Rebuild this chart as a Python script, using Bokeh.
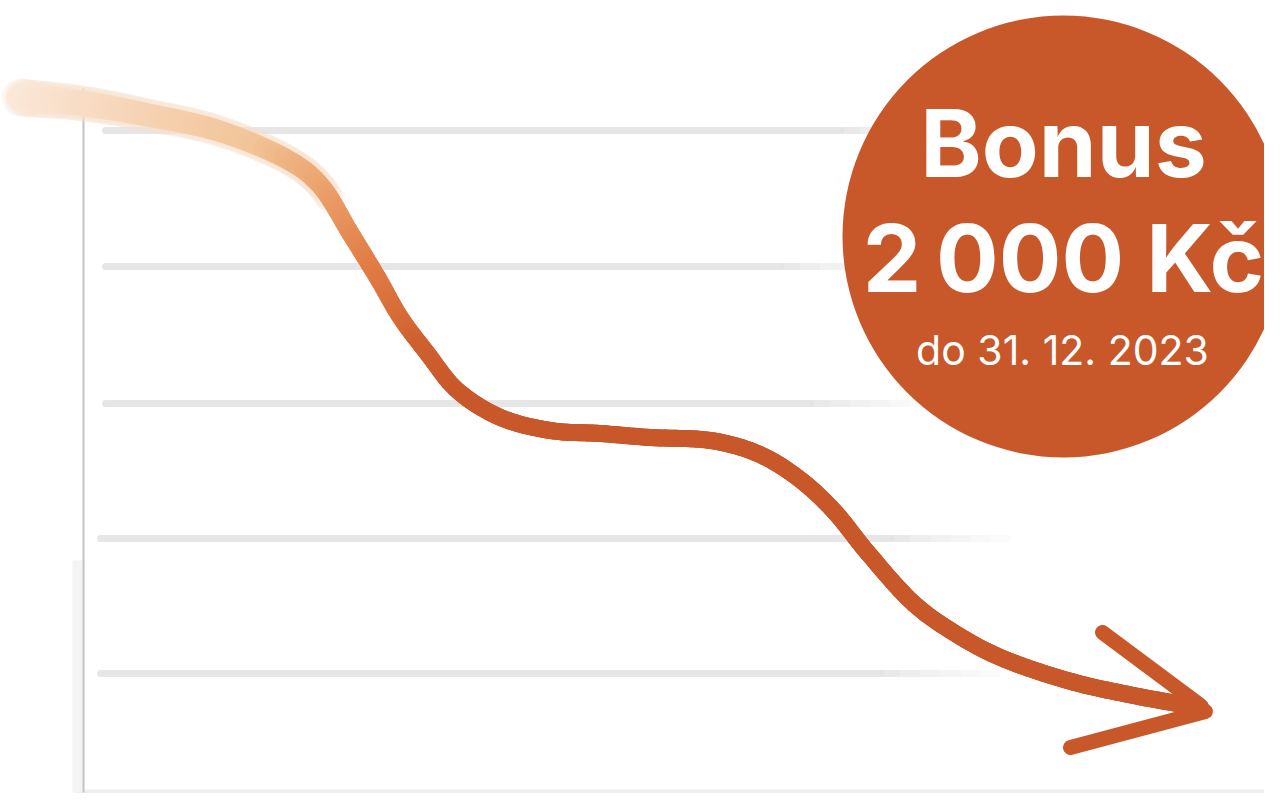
from bokeh.plotting import figure
from bokeh.models import Range1d
from bokeh.embed import file_html
from bokeh.resources import INLINE
from bokeh.core.properties import value

# ---- data (in picture pixel coordinates) ----
curve_x = [20, 83, 150, 217, 283, 320, 350, 377, 400, 427, 457, 500, 550, 600,
           650, 710, 757, 797, 833, 867, 910, 950, 1000, 1067, 1133, 1200]
curve_y = [97, 103, 115, 130, 157, 185, 233, 277, 317, 353, 390, 417, 430, 433,
           437, 440, 453, 477, 510, 552, 600, 630, 657, 680, 695, 707]
arrow_x0 = [1102, 1070]
arrow_y0 = [632, 747]
arrow_x1 = [1200, 1205]
arrow_y1 = [705, 711]
grid_y = [130, 266, 403, 538, 673]
grid_x_start = [105, 105, 105, 100, 100]
grid_x_end = [960, 900, 930, 1010, 1000]
axis_x = 83
axis_top = 88
axis_bottom = 792
badge_cx, badge_cy, badge_r = 1063, 236, 221
badge_lines = ["Bonus", "2\u202f000 Kč", "do 31. 12. 2023"]
badge_baselines = [178, 293, 365]

ORANGE = "#C8582A"

p = figure(width=1264, height=793, output_backend="svg", toolbar_location=None,
           x_range=Range1d(0, 1264), y_range=Range1d(793, 0),
           min_border=0, border_fill_color="white", background_fill_color="white")
p.axis.visible = False
p.grid.visible = False
p.outline_line_color = None

# faint bottom baseline and soft vertical axis shadow
p.segment(x0=[75], y0=[axis_bottom - 1], x1=[1264], y1=[axis_bottom - 1],
          line_color="#eeeeee", line_width=4)
p.segment(x0=[axis_x - 5], y0=[560], x1=[axis_x - 5], y1=[axis_bottom],
          line_color="#f4f4f4", line_width=12)
# vertical axis
p.segment(x0=[axis_x], y0=[axis_top], x1=[axis_x], y1=[axis_bottom],
          line_color="#c4c4c4", line_width=2)

# horizontal gridlines fading towards the right
for gy, xs, xe in zip(grid_y, grid_x_start, grid_x_end):
    p.segment(x0=[xs], y0=[gy], x1=[xe - 120], y1=[gy],
              line_color="#e3e3e3", line_width=7, line_cap="round", line_alpha=0.9)
    n = 6
    step = 120 / n
    for k in range(n):
        a = 0.9 * (1 - (k + 1) / (n + 1))
        p.segment(x0=[xe - 120 + k * step], y0=[gy], x1=[xe - 120 + (k + 1) * step], y1=[gy],
                  line_color="#e3e3e3", line_width=7, line_alpha=a)


# smooth rendering of the read points (Catmull-Rom drawing, style only)
def smooth(xs, ys, sub=12):
    px = [xs[0]] + list(xs) + [xs[-1]]
    py = [ys[0]] + list(ys) + [ys[-1]]
    ox, oy = [], []
    for i in range(1, len(px) - 2):
        for s in range(sub):
            t = s / sub
            t2, t3 = t * t, t * t * t
            def cr(p0, p1, p2, p3):
                return 0.5 * ((2 * p1) + (-p0 + p2) * t + (2 * p0 - 5 * p1 + 4 * p2 - p3) * t2
                              + (-p0 + 3 * p1 - 3 * p2 + p3) * t3)
            ox.append(cr(px[i - 1], px[i], px[i + 1], px[i + 2]))
            oy.append(cr(py[i - 1], py[i], py[i + 1], py[i + 2]))
    ox.append(xs[-1]); oy.append(ys[-1])
    return ox, oy


def seg_color(x):
    stops = [(20, (251, 232, 216)), (150, (246, 211, 180)), (260, (242, 196, 152)),
             (320, (236, 166, 114)), (370, (226, 126, 70)), (420, (208, 97, 47)),
             (460, (200, 88, 42))]
    if x <= stops[0][0]:
        c = stops[0][1]
    elif x >= stops[-1][0]:
        c = stops[-1][1]
    else:
        for (xa, ca), (xb, cb) in zip(stops[:-1], stops[1:]):
            if xa <= x <= xb:
                t = (x - xa) / (xb - xa)
                c = tuple(int(round(ca[i] + t * (cb[i] - ca[i]))) for i in range(3))
                break
    return "#%02x%02x%02x" % c


def seg_width(x):
    if x < 150:
        return 28 - (x - 20) / 130 * 5
    if x < 400:
        return 23 - (x - 150) / 250 * 6
    return 17


sx, sy = smooth(curve_x, curve_y)
x0s, y0s, x1s, y1s, cols, wids = [], [], [], [], [], []
for i in range(len(sx) - 1):
    xm = (sx[i] + sx[i + 1]) / 2
    x0s.append(sx[i]); y0s.append(sy[i])
    x1s.append(sx[i + 1]); y1s.append(sy[i + 1])
    cols.append(seg_color(xm)); wids.append(seg_width(xm))

# soft halo under the faded start
nh = sum(1 for x in x0s if x < 330)
p.segment(x0=x0s[:nh], y0=y0s[:nh], x1=x1s[:nh], y1=y1s[:nh],
          line_color="#f9e0cc", line_width=[w + 10 for w in wids[:nh]],
          line_alpha=0.25, line_cap="round")
p.segment(x0=x0s, y0=y0s, x1=x1s, y1=y1s, line_color=cols,
          line_width=wids, line_cap="round")
ks = [i for i, x in enumerate(sx) if x >= 460]
p.line([sx[i] for i in ks], [sy[i] for i in ks], line_color=ORANGE, line_width=17,
       line_join="round", line_cap="round")

# arrow head
p.segment(x0=arrow_x0, y0=arrow_y0, x1=arrow_x1, y1=arrow_y1,
          line_color=ORANGE, line_width=15, line_cap="round")

# badge
p.circle(x=[badge_cx], y=[badge_cy], radius=badge_r, fill_color=ORANGE,
         line_color=None)
p.text(x=[badge_cx], y=[badge_baselines[0] - 36], text=[badge_lines[0]],
       text_font=value("Inter"), text_font_style="bold", text_font_size="93px",
       text_color="white", text_align="center", text_baseline="alphabetic")
p.text(x=[badge_cx], y=[badge_baselines[1] - 36], text=[badge_lines[1]],
       text_font=value("Inter"), text_font_style="bold", text_font_size="93px",
       text_color="white", text_align="center", text_baseline="alphabetic")
p.text(x=[badge_cx - 1], y=[badge_baselines[2] - 16], text=[badge_lines[2]],
       text_font=value("Inter"), text_font_size="41px",
       text_color="white", text_align="center", text_baseline="alphabetic")

open("out.html", "w").write(file_html(p, INLINE))
